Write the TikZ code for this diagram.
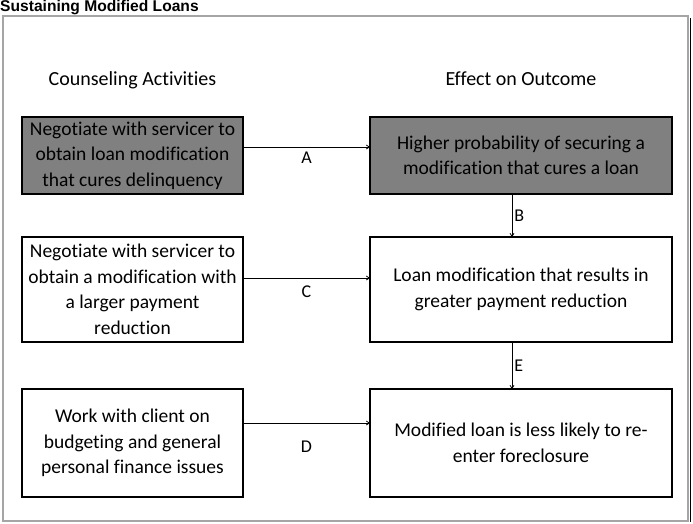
\documentclass[tikz,border=0pt]{standalone}
\usepackage{fontspec}
\setmainfont{Carlito}[Ligatures=NoCommon]
\newfontfamily\titlefont{Liberation Sans}
\usetikzlibrary{arrows.meta, positioning}
\definecolor{boxgrey}{RGB}{128,128,128}
\definecolor{framegrey}{RGB}{165,165,165}

\begin{document}
\begin{tikzpicture}[x=1pt, y=-1pt,
  act/.style={rectangle, draw=black, line width=1.6pt, minimum width=221pt, align=center, font=\fontsize{19.5}{25.5}\selectfont, inner sep=2pt, outer sep=0pt},
  eff/.style={act, minimum width=302pt},
  dark/.style={fill=boxgrey},
  head/.style={font=\fontsize{20}{24}\selectfont, text height=0.7em, text depth=0.22em},
  lbl/.style={font=\fontsize{18}{20}\selectfont, inner sep=2pt},
  arr/.style={-{Straight Barb[length=3pt, width=4pt]}, line width=0.8pt}
]
\useasboundingbox (0,0) rectangle (693,523);
% frame and title
\draw[framegrey, line width=1.8pt] (3,16) rectangle (688,521);
\draw[black, line width=0.6pt] (690,18) -- (690,522);
\node[anchor=base west, inner sep=0pt, font=\titlefont\bfseries\fontsize{15.6}{18}\selectfont] (title) at (0,11.8) {Sustaining Modified Loans};

% rows
\node[act, dark, minimum height=77pt] (l1) at (132.5,155.5) {Negotiate with servicer to\\obtain loan modification\\that cures delinquency};
\node[eff, dark, minimum height=77pt, right=127pt of l1] (r1) {Higher probability of securing a\\modification that cures a loan};
\node[act, minimum height=105pt] (l2) at (132.5,289.5) {Negotiate with servicer to\\obtain a modification with\\a larger payment\\reduction};
\node[eff, minimum height=105pt, right=127pt of l2] (r2) {Loan modification that results in\\greater payment reduction};
\node[act, minimum height=108pt] (l3) at (132.5,443) {Work with client on\\budgeting and general\\personal finance issues};
\node[eff, minimum height=108pt, right=127pt of l3] (r3) {Modified loan is less likely to re-\\enter foreclosure};

% headings
\node[head, above=26pt of l1] (hl) {Counseling Activities};
\node[head, above=26pt of r1] (hr) {Effect on Outcome};

% connectors
\draw[arr] ([yshift=8.5pt]l1.east) -- ([yshift=8.5pt]r1.west);
\path (l1.east) -- node[lbl, yshift=-2.5pt] {A} (r1.west);
\draw[arr] ([yshift=11.5pt]l2.east) -- ([yshift=11.5pt]r2.west);
\path (l2.east) -- node[lbl, yshift=-2.5pt] {C} (r2.west);
\draw[arr] ([yshift=20pt]l3.east) -- ([yshift=20pt]r3.west);
\path (l3.east) -- node[lbl, yshift=-4pt] {D} (r3.west);
\draw[arr] ([xshift=-9pt]r1.south) -- node[lbl, right] {B} ([xshift=-9pt]r2.north);
\draw[arr] ([xshift=-9pt]r2.south) -- node[lbl, right] {E} ([xshift=-9pt]r3.north);
\end{tikzpicture}
\end{document}
